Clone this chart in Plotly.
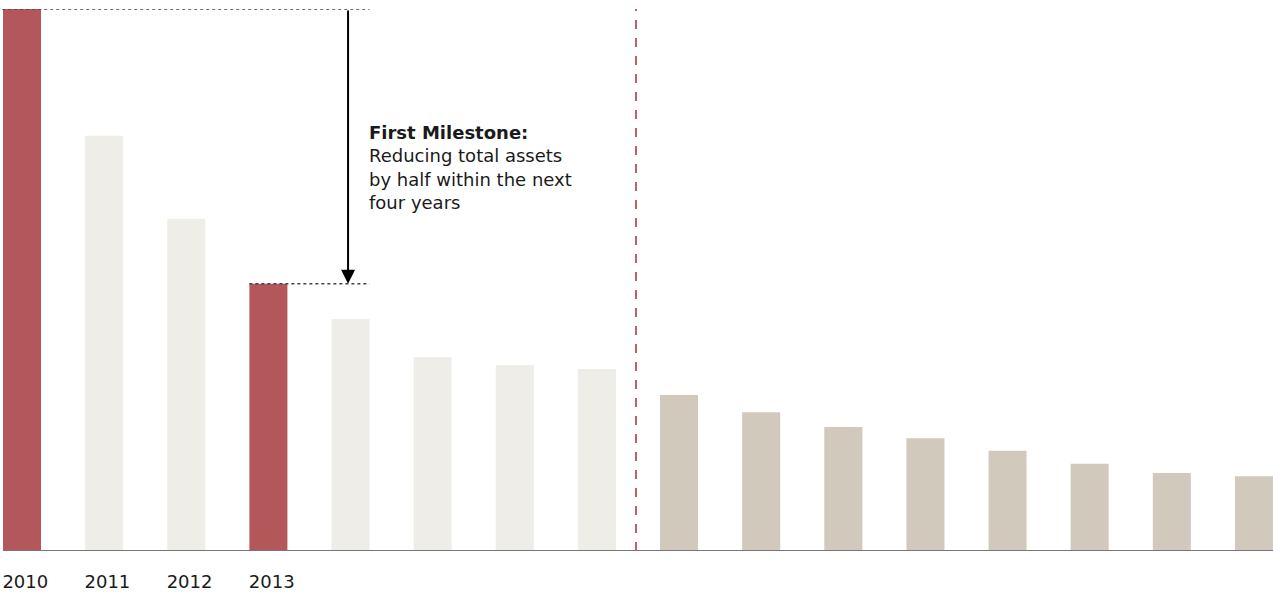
import plotly.graph_objects as go

years = [str(y) for y in range(2010, 2026)]
values = [100, 76.6, 61.3, 49.3, 42.8, 35.8, 34.3, 33.6, 28.8, 25.6, 22.9, 20.8, 18.5, 16.1, 14.4, 13.8]
colors = ["#B4575A", "#EEEDE7", "#EEEDE7", "#B4575A", "#EEEDE7", "#EEEDE7", "#EEEDE7", "#EEEDE7",
          "#D1C9BC", "#D1C9BC", "#D1C9BC", "#D1C9BC", "#D1C9BC", "#D1C9BC", "#D1C9BC", "#D1C9BC"]
tick_labels = ["2010", "2011", "2012", "2013"]

xs = list(range(len(values)))
bw = 0.463
FONT = "DejaVu Sans, sans-serif"

fig = go.Figure(go.Bar(x=xs, y=values, marker=dict(color=colors, line=dict(width=0)), width=bw,
                       hoverinfo="skip"))

x0 = -0.268
x1 = x0 + 15.5
half = bw / 2
fig.update_layout(
    width=1273, height=594,
    margin=dict(l=0, r=0, t=9, b=43),
    plot_bgcolor="white", paper_bgcolor="white",
    showlegend=False,
    xaxis=dict(range=[x0, x1], tickvals=[i + 0.04 for i in range(len(tick_labels))], ticktext=tick_labels,
               showgrid=False, zeroline=False, showline=False,
               ticks="outside", ticklen=14, tickcolor="rgba(0,0,0,0)",
               tickfont=dict(family=FONT, size=18, color="#1a1a1a")),
    yaxis=dict(range=[0, 100], visible=False, showgrid=False, zeroline=False),
)

# baseline
fig.add_shape(type="line", xref="x", yref="y", x0=-half, x1=x1, y0=0, y1=0,
              line=dict(color="#777777", width=2))
# dotted reference lines
fig.add_shape(type="line", xref="x", yref="y", x0=-half - 0.01, x1=4 + half, y0=values[0], y1=values[0],
              line=dict(color="#444444", width=1.5, dash="3px,3px"))
fig.add_shape(type="line", xref="x", yref="y", x0=3 - half, x1=4 + half, y0=values[3], y1=values[3],
              line=dict(color="#444444", width=1.5, dash="3px,3px"))
# red dashed separator
fig.add_shape(type="line", xref="x", yref="y", x0=7.476, x1=7.476, y0=0, y1=values[0],
              line=dict(color="#C0606A", width=2, dash="9px,9px"))

# arrow
fig.add_annotation(x=3.97, y=values[3], ax=3.97, ay=values[0], xref="x", yref="y", axref="x", ayref="y",
                   showarrow=True, arrowhead=2, arrowsize=1.4, arrowwidth=2, arrowcolor="#000000", text="")

fig.add_annotation(x=4 + half, y=values[0] - 20.4, xref="x", yref="y", xanchor="left", yanchor="top",
                   align="left", showarrow=False, xshift=-3,
                   text="<b>First Milestone:</b><br>Reducing total assets<br>by half within the next<br>four years",
                   font=dict(family=FONT, size=18, color="#1a1a1a"))

fig.write_html("out.html")
